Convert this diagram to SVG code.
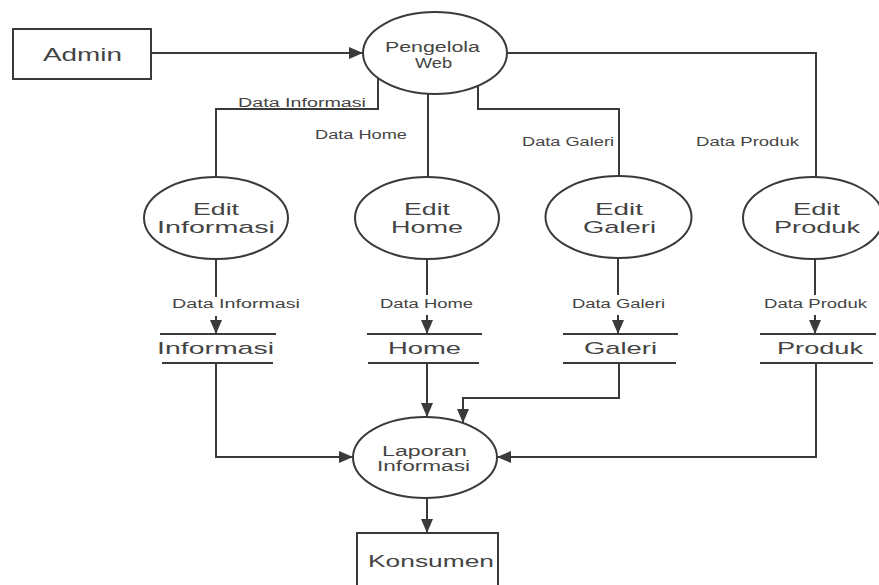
<svg xmlns="http://www.w3.org/2000/svg" width="879" height="585" viewBox="0 0 879 585">
  <style>
    .shape { fill: #ffffff; stroke: #3a3a3a; stroke-width: 2; }
    .flow { fill: none; stroke: #3a3a3a; stroke-width: 2; }
    .store { stroke: #3a3a3a; stroke-width: 2; }
    text { font-family: "Liberation Sans", Arial, sans-serif; fill: #444444; text-anchor: middle; }
    .big { font-size: 17px; }
    .mid { font-size: 14px; }
    .small { font-size: 12px; }
  </style>
  <defs>
    <marker id="arrow" markerUnits="userSpaceOnUse" markerWidth="14" markerHeight="12" refX="14" refY="6" orient="auto">
      <path d="M0,0 L14,6 L0,12 z" fill="#3a3a3a"/>
    </marker>
  </defs>

  <!-- data flows -->
  <g id="connectors">
    <line class="flow" x1="151" y1="53" x2="363" y2="53" marker-end="url(#arrow)"/>
    <polyline class="flow" points="378,78 378,109 216,109 216,177"/>
    <line class="flow" x1="428" y1="94" x2="428" y2="177"/>
    <polyline class="flow" points="478,86 478,109 619,109 619,176"/>
    <polyline class="flow" points="507,53 816,53 816,177"/>

    <line class="flow" x1="216" y1="259" x2="216" y2="297"/>
    <line class="flow" x1="216" y1="316" x2="216" y2="334" marker-end="url(#arrow)"/>
    <line class="flow" x1="427" y1="259" x2="427" y2="295"/>
    <line class="flow" x1="427" y1="315" x2="427" y2="334" marker-end="url(#arrow)"/>
    <line class="flow" x1="618" y1="258" x2="618" y2="295"/>
    <line class="flow" x1="618" y1="315" x2="618" y2="334" marker-end="url(#arrow)"/>
    <line class="flow" x1="815" y1="259" x2="815" y2="295"/>
    <line class="flow" x1="815" y1="315" x2="815" y2="334" marker-end="url(#arrow)"/>

    <polyline class="flow" points="216,363 216,457 353,457" marker-end="url(#arrow)"/>
    <line class="flow" x1="427" y1="363" x2="427" y2="417" marker-end="url(#arrow)"/>
    <polyline class="flow" points="619,363 619,398 463,398 463,423" marker-end="url(#arrow)"/>
    <polyline class="flow" points="816,363 816,457 497,457" marker-end="url(#arrow)"/>
    <line class="flow" x1="427" y1="498" x2="427" y2="533" marker-end="url(#arrow)"/>

    <text class="small" x="302" y="107" textLength="128" lengthAdjust="spacingAndGlyphs">Data Informasi</text>
    <text class="small" x="361" y="139" textLength="92" lengthAdjust="spacingAndGlyphs">Data Home</text>
    <text class="small" x="568" y="146" textLength="92" lengthAdjust="spacingAndGlyphs">Data Galeri</text>
    <text class="small" x="747.5" y="146" textLength="103" lengthAdjust="spacingAndGlyphs">Data Produk</text>

    <text class="small" x="236" y="308" textLength="128" lengthAdjust="spacingAndGlyphs">Data Informasi</text>
    <text class="small" x="426.5" y="308" textLength="93" lengthAdjust="spacingAndGlyphs">Data Home</text>
    <text class="small" x="618.5" y="308" textLength="93" lengthAdjust="spacingAndGlyphs">Data Galeri</text>
    <text class="small" x="815.5" y="308" textLength="103" lengthAdjust="spacingAndGlyphs">Data Produk</text>
  </g>

  <!-- external entities -->
  <g id="admin">
    <rect class="shape" x="13" y="29" width="138" height="50"/>
    <text x="82.5" y="61" font-size="18" textLength="79" lengthAdjust="spacingAndGlyphs">Admin</text>
  </g>
  <g id="konsumen">
    <rect class="shape" x="357" y="533" width="141" height="60"/>
    <text class="big" x="431" y="567" textLength="126" lengthAdjust="spacingAndGlyphs">Konsumen</text>
  </g>

  <!-- processes -->
  <g id="pengelola-web">
    <ellipse class="shape" cx="435" cy="53" rx="72" ry="41"/>
    <text x="432.5" y="51.5" font-size="14" textLength="95" lengthAdjust="spacingAndGlyphs">Pengelola</text>
    <text x="433.5" y="68" font-size="14" textLength="37" lengthAdjust="spacingAndGlyphs">Web</text>
  </g>
  <g id="edit-informasi">
    <ellipse class="shape" cx="216" cy="218" rx="72" ry="41"/>
    <text class="big" x="216" y="215" textLength="46" lengthAdjust="spacingAndGlyphs">Edit</text>
    <text class="big" x="216" y="233" textLength="118" lengthAdjust="spacingAndGlyphs">Informasi</text>
  </g>
  <g id="edit-home">
    <ellipse class="shape" cx="427" cy="218" rx="72" ry="41"/>
    <text class="big" x="427" y="215" textLength="46" lengthAdjust="spacingAndGlyphs">Edit</text>
    <text class="big" x="427" y="233" textLength="72" lengthAdjust="spacingAndGlyphs">Home</text>
  </g>
  <g id="edit-galeri">
    <ellipse class="shape" cx="618.5" cy="217" rx="73" ry="41"/>
    <text class="big" x="619" y="215" textLength="48" lengthAdjust="spacingAndGlyphs">Edit</text>
    <text class="big" x="619.5" y="233" textLength="73" lengthAdjust="spacingAndGlyphs">Galeri</text>
  </g>
  <g id="edit-produk">
    <ellipse class="shape" cx="813" cy="218" rx="70" ry="41"/>
    <text class="big" x="816.5" y="215" textLength="47" lengthAdjust="spacingAndGlyphs">Edit</text>
    <text class="big" x="817" y="233" textLength="86" lengthAdjust="spacingAndGlyphs">Produk</text>
  </g>
  <g id="laporan-informasi">
    <ellipse class="shape" cx="425" cy="457.5" rx="72" ry="40.5"/>
    <text class="mid" x="424.5" y="456" textLength="85" lengthAdjust="spacingAndGlyphs">Laporan</text>
    <text class="mid" x="423.5" y="471" textLength="93" lengthAdjust="spacingAndGlyphs">Informasi</text>
  </g>

  <!-- data stores -->
  <g id="store-informasi">
    <line class="store" x1="160" y1="334" x2="276" y2="334"/>
    <line class="store" x1="162" y1="363" x2="273" y2="363"/>
    <text class="big" x="215.5" y="354" textLength="117" lengthAdjust="spacingAndGlyphs">Informasi</text>
  </g>
  <g id="store-home">
    <line class="store" x1="367" y1="334" x2="482" y2="334"/>
    <line class="store" x1="368" y1="363" x2="479" y2="363"/>
    <text class="big" x="424.5" y="354" textLength="73" lengthAdjust="spacingAndGlyphs">Home</text>
  </g>
  <g id="store-galeri">
    <line class="store" x1="563" y1="334" x2="678" y2="334"/>
    <line class="store" x1="563" y1="363" x2="676" y2="363"/>
    <text class="big" x="620.5" y="354" textLength="73" lengthAdjust="spacingAndGlyphs">Galeri</text>
  </g>
  <g id="store-produk">
    <line class="store" x1="760" y1="334" x2="876" y2="334"/>
    <line class="store" x1="760" y1="363" x2="873" y2="363"/>
    <text class="big" x="820" y="354" textLength="86" lengthAdjust="spacingAndGlyphs">Produk</text>
  </g>
</svg>
